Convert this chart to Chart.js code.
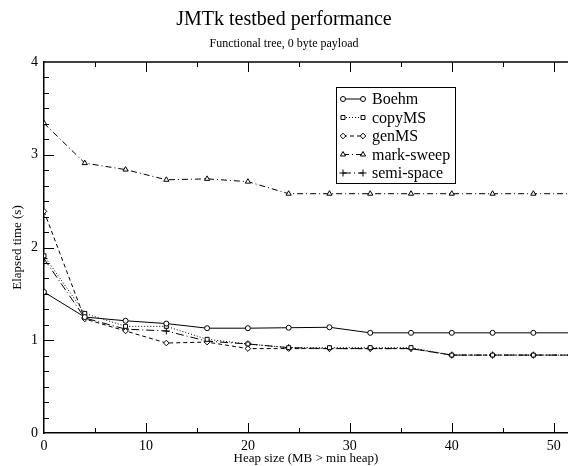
<!DOCTYPE html>
<html>
<head>
<meta charset="utf-8">
<script src="https://cdn.jsdelivr.net/npm/chart.js@4.4.1/dist/chart.umd.min.js"></script>
<style>
  body { margin: 0; background: #fff; }
  #wrap { width: 568px; height: 466px; }
</style>
</head>
<body>
<div id="wrap"><canvas id="myChart"></canvas></div>
<script>
// heap size (MB above min heap) and elapsed time (s) per collector
let heapSizes = [0, 4, 8, 12, 16, 20, 24, 28, 32, 36, 40, 44, 48, 52];
let boehm     = [1.52, 1.25, 1.21, 1.18, 1.13, 1.13, 1.135, 1.14, 1.08, 1.08, 1.08, 1.08, 1.08, 1.08];
let copyMS    = [1.91, 1.29, 1.15, 1.15, 1.01, 0.96, 0.92, 0.92, 0.92, 0.92, 0.84, 0.84, 0.84, 0.84];
let genMS     = [2.39, 1.23, 1.10, 0.97, 0.98, 0.91, 0.91, 0.91, 0.91, 0.91, 0.84, 0.84, 0.84, 0.84];
let markSweep = [3.34, 2.91, 2.84, 2.73, 2.74, 2.71, 2.58, 2.58, 2.58, 2.58, 2.58, 2.58, 2.58, 2.58];
let semiSpace = [1.88, 1.24, 1.12, 1.10, 0.99, 0.96, 0.92, 0.91, 0.91, 0.91, 0.84, 0.84, 0.84, 0.84];

let xTicks = [0, 10, 20, 30, 40, 50];
let yTicks = [0, 1, 2, 3, 4];

const serif = '"Liberation Serif", "DejaVu Serif", serif';

function makeSet(label, values, dash, style, radius){
  return {
    label: label,
    data: heapSizes.map(function(h, i){ return {x: h, y: values[i]}; }),
    borderColor: '#000',
    backgroundColor: '#fff',
    borderWidth: 1,
    borderDash: dash,
    pointStyle: style,
    pointRadius: radius,
    pointBorderColor: '#000',
    pointBackgroundColor: '#fff',
    pointBorderWidth: 1,
    tension: 0
  };
}

let data = {
  datasets: [
    makeSet('Boehm', boehm, [], 'circle', 2.5),
    makeSet('copyMS', copyMS, [1, 2], 'rect', 2.8),
    makeSet('genMS', genMS, [4, 3], 'rectRot', 2.8),
    makeSet('mark-sweep', markSweep, [6, 3, 1, 3], 'triangle', 3),
    makeSet('semi-space', semiSpace, [8, 3, 1, 3], 'cross', 3.5)
  ]
};

// inward tick marks and top frame line
let tickPlugin = {
  id: 'inTicks',
  afterDraw: function(chart){
    let ctx = chart.ctx;
    let a = chart.chartArea;
    let xs = chart.scales.x, ys = chart.scales.y;
    ctx.save();
    ctx.strokeStyle = '#000';
    ctx.lineWidth = 1.5;
    ctx.beginPath();
    ctx.moveTo(a.left, a.top);
    ctx.lineTo(a.right, a.top);
    ctx.stroke();
    ctx.lineWidth = 1;
    ctx.beginPath();
    for (let v = 5; v <= xs.max; v += 5){
      let px = Math.round(xs.getPixelForValue(v)) + 0.5;
      let len = v % 10 === 0 ? 10 : 5;
      ctx.moveTo(px, a.bottom); ctx.lineTo(px, a.bottom - len);
      ctx.moveTo(px, a.top); ctx.lineTo(px, a.top + len);
    }
    for (let i = 1; i < 24; i++){
      let py = Math.round(ys.getPixelForValue(i / 6)) + 0.5;
      let len = i % 6 === 0 ? 10 : 5;
      ctx.moveTo(a.left, py); ctx.lineTo(a.left + len, py);
    }
    ctx.stroke();
    ctx.restore();
  }
};

// boxed legend inside the plot
let legendPlugin = {
  id: 'boxLegend',
  afterDraw: function(chart){
    let ctx = chart.ctx;
    let left = 336, top = 87, w = 119, h = 96;
    ctx.save();
    ctx.fillStyle = '#fff';
    ctx.fillRect(left, top, w, h);
    ctx.strokeStyle = '#000';
    ctx.lineWidth = 1;
    ctx.strokeRect(left + 0.5, top + 0.5, w, h);
    ctx.font = '16px ' + serif;
    ctx.textBaseline = 'middle';
    chart.data.datasets.forEach(function(ds, i){
      let yy = top + 12 + i * 18.5;
      let x1 = left + 7, x2 = left + 27;
      ctx.strokeStyle = '#000';
      ctx.setLineDash(ds.borderDash);
      ctx.beginPath();
      ctx.moveTo(x1, yy); ctx.lineTo(x2, yy);
      ctx.stroke();
      ctx.setLineDash([]);
      ctx.fillStyle = '#fff';
      let opt = {pointStyle: ds.pointStyle, radius: ds.pointRadius, borderWidth: 1, rotation: 0};
      Chart.helpers.drawPoint(ctx, opt, x1, yy);
      Chart.helpers.drawPoint(ctx, opt, x2, yy);
      ctx.fillStyle = '#000';
      ctx.fillText(ds.label, left + 36, yy + 1);
    });
    ctx.restore();
  }
};

let config = {
  type: 'line',
  data: data,
  options: {
    responsive: true,
    maintainAspectRatio: false,
    animation: false,
    layout: { padding: 0, autoPadding: false },
    plugins: {
      legend: { display: false },
      tooltip: { enabled: false },
      title: {
        display: true,
        text: 'JMTk testbed performance',
        color: '#000',
        font: { family: serif, size: 20, weight: 'normal' },
        padding: { top: 8, bottom: 3 }
      },
      subtitle: {
        display: true,
        text: 'Functional tree, 0 byte payload',
        color: '#000',
        font: { family: serif, size: 12, weight: 'normal' },
        padding: { top: 2, bottom: 10.6 }
      }
    },
    scales: {
      x: {
        type: 'linear',
        min: 0,
        max: 51.4,
        afterFit: function(s){ s.height = 33; },
        afterBuildTicks: function(s){ s.ticks = xTicks.map(function(v){ return {value: v}; }); },
        grid: { drawOnChartArea: false, drawTicks: false },
        border: { display: true, color: '#000', width: 1.5 },
        ticks: { color: '#000', padding: 5, maxRotation: 0, font: { family: serif, size: 14 } },
        title: {
          display: true,
          text: 'Heap size (MB > min heap)',
          color: '#000',
          font: { family: serif, size: 13 },
          padding: 0
        }
      },
      y: {
        type: 'linear',
        min: 0,
        max: 4,
        afterFit: function(s){ s.width = 44; },
        afterBuildTicks: function(s){ s.ticks = yTicks.map(function(v){ return {value: v}; }); },
        grid: { drawOnChartArea: false, drawTicks: false },
        border: { display: true, color: '#000', width: 1.5 },
        ticks: { color: '#000', padding: 6, font: { family: serif, size: 14 } },
        title: {
          display: true,
          text: 'Elapsed time (s)',
          color: '#000',
          font: { family: serif, size: 13 },
          padding: { top: 10, bottom: 0 }
        }
      }
    }
  },
  plugins: [tickPlugin, legendPlugin]
};

let myChart = new Chart(document.getElementById('myChart'), config);
</script>
</body>
</html>
